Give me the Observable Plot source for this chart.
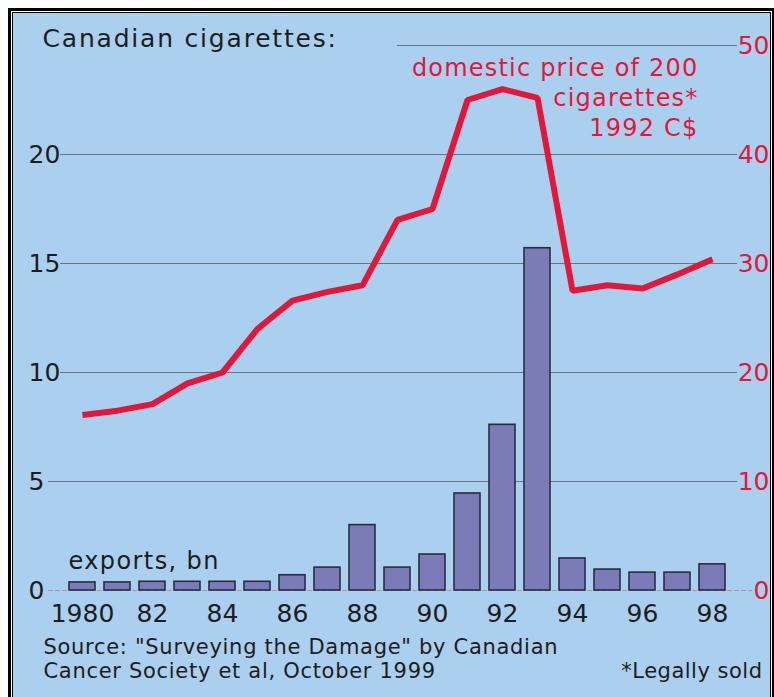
<!DOCTYPE html>
<html><head><meta charset="utf-8">
<script src="https://cdn.jsdelivr.net/npm/d3@7"></script>
<script src="https://cdn.jsdelivr.net/npm/@observablehq/plot@0.6"></script>
<style>
html,body{margin:0;padding:0;background:#fff;width:774px;height:697px;overflow:hidden;}
#panel{position:absolute;left:8px;top:8px;width:757px;height:720px;border:3px solid #000;padding:2px;background:#abcfee;box-shadow:inset 0 0 0 1px #fff, inset 0 0 0 2px #000;}
#panel svg{display:block;}
</style></head><body><div id="panel"></div><script>
// Data
const years = [1980,1981,1982,1983,1984,1985,1986,1987,1988,1989,1990,1991,1992,1993,1994,1995,1996,1997,1998];
const exportsBn = [0.37,0.37,0.4,0.4,0.4,0.4,0.7,1.05,3.0,1.05,1.65,4.45,7.6,15.7,1.47,0.96,0.82,0.82,1.2];
const price1992 = [16.1,16.5,17.1,19.0,20.0,24.0,26.6,27.4,28.0,34.0,35.0,45.0,46.0,45.2,27.5,28.0,27.7,29.0,30.4];
const xTickYears = [1980,1982,1984,1986,1988,1990,1992,1994,1996,1998];
const xTickLabels = ["1980","82","84","86","88","90","92","94","96","98"];
const leftTicks = [0,5,10,15,20];
const rightTicks = [0,10,20,30,40,50];
const titleText = "Canadian cigarettes:";
const priceLabel = "domestic price of 200\ncigarettes*\n1992 C$";
const exportsLabel = "exports, bn";
const sourceText = "Source: \"Surveying the Damage\" by Canadian\nCancer Society et al, October 1999";
const noteText = "*Legally sold";

const red = "#e2173a";
const grid = "#687684";
const data = years.map((year, i) => ({year, exports: exportsBn[i], price: price1992[i]}));

const chart = Plot.plot({
  width: 757, height: 684,
  marginTop: 32, marginBottom: 107, marginLeft: 33, marginRight: 18,
  style: {background: "transparent", fontFamily: "DejaVu Sans", fontSize: "25px", color: "#1d1d1d", overflow: "visible"},
  x: {type: "band", domain: years, paddingInner: 0.26, paddingOuter: 0.13, insetLeft: 16.4, insetRight: 21.4, axis: null, label: null},
  y: {domain: [0, 25], axis: null, label: null},
  marks: [
    Plot.ruleY([5], {insetLeft: 2, insetRight: 15, stroke: grid, strokeWidth: 1}),
    Plot.ruleY([10, 15, 20], {insetLeft: 14, insetRight: 15, stroke: grid, strokeWidth: 1}),
    Plot.ruleY([25], {insetLeft: 351, insetRight: 15, stroke: grid, strokeWidth: 1}),
    Plot.ruleY([0], {insetLeft: 2, stroke: "#c9899f", strokeWidth: 1.2, strokeDasharray: "5,2"}),
    Plot.barY(data, {x: "year", y: "exports", fill: "#7b7bb7", stroke: "#2c2c3e", strokeWidth: 1.6}),
    Plot.line(data, {x: "year", y: d => d.price / 2, stroke: red, strokeWidth: 6, strokeLinejoin: "miter", strokeLinecap: "butt"}),
    Plot.axisX({ticks: xTickYears, tickFormat: d => xTickLabels[xTickYears.indexOf(d)], tickSize: 0, tickPadding: 14, fontSize: 25, label: null}),
    Plot.axisY({anchor: "left", ticks: leftTicks, tickSize: 0, tickPadding: 0, textAnchor: "start", dx: -18, fontSize: 25, label: null}),
    Plot.axisY({anchor: "right", ticks: rightTicks.map(v => v / 2), tickFormat: d => String(d * 2), tickSize: 0, tickPadding: 0, textAnchor: "end", dx: 17, fill: red, fontSize: 25, label: null}),
    Plot.text([titleText], {text: d => d, frameAnchor: "top-left", textAnchor: "start", lineAnchor: "bottom", dx: -4, dy: 1, fontSize: 25, fill: "#1d1d1d"}),
    Plot.text([priceLabel], {text: d => d, frameAnchor: "top-right", textAnchor: "end", lineAnchor: "bottom", dx: -54, dy: 90, fontSize: 24, lineHeight: 1.25, fill: red}),
    Plot.text([exportsLabel], {text: d => d, frameAnchor: "bottom-left", textAnchor: "start", lineAnchor: "bottom", dx: 22, dy: -22, fontSize: 24, fill: "#1d1d1d"}),
    Plot.text([sourceText], {text: d => d, frameAnchor: "bottom-left", textAnchor: "start", lineAnchor: "bottom", dx: -3, dy: 87, fontSize: 21, lineHeight: 1.1, fill: "#1d1d1d"}),
    Plot.text([noteText], {text: d => d, frameAnchor: "bottom-right", textAnchor: "end", lineAnchor: "bottom", dx: 10, dy: 87, fontSize: 21, fill: "#1d1d1d"})
  ]
});

const spacing = [["Canadian", 1.8], ["domestic", 1.2], ["exports", 1.4], ["Source", 0.7], ["*Legally", 0.5]];
d3.select(chart).selectAll("text").each(function() {
  const t = this.textContent;
  for (const [k, v] of spacing) if (t.startsWith(k)) this.setAttribute("letter-spacing", v + "px");
});
document.getElementById("panel").appendChild(chart);
</script></body></html>
